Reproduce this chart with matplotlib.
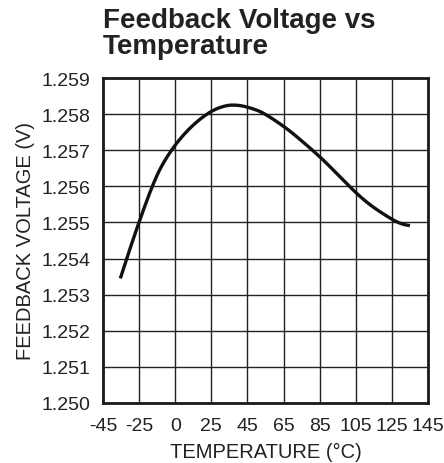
import numpy as np
import matplotlib
matplotlib.use("Agg")
import matplotlib.pyplot as plt

plt.rcParams['font.family'] = ['Liberation Sans', 'DejaVu Sans']

# Data
x_ticks = [-45, -25, 0, 25, 45, 65, 85, 105, 125, 145]
y_ticks = [1.250, 1.251, 1.252, 1.253, 1.254, 1.255, 1.256, 1.257, 1.258, 1.259]
temperature = [-35.4, -30.8, -25.0, -16.25, -9.25, -0.75, 8.0, 17.25, 25.6, 31.6,
               37.2, 44.4, 53.6, 65.0, 73.6, 85.0, 93.8, 105.0, 114.0, 125.0,
               130.6, 135.0]
voltage = [1.25345, 1.25416, 1.25501, 1.25596, 1.25657, 1.25710, 1.25752, 1.25786,
           1.25809, 1.25821, 1.25825, 1.25820, 1.25803, 1.25766, 1.25732, 1.25682,
           1.25639, 1.25583, 1.25545, 1.25509, 1.25496, 1.25491]

idx = np.arange(len(x_ticks), dtype=float)
tk = np.array(x_ticks, dtype=float)
fwd = lambda v: np.interp(v, tk, idx)
inv = lambda v: np.interp(v, idx, tk)


def catmull_rom(xs, ys, n=12):
    """Smooth rendering path through the given points."""
    xs = np.asarray(xs, float)
    ys = np.asarray(ys, float)
    px = np.concatenate([[2 * xs[0] - xs[1]], xs, [2 * xs[-1] - xs[-2]]])
    py = np.concatenate([[2 * ys[0] - ys[1]], ys, [2 * ys[-1] - ys[-2]]])
    ox, oy = [], []
    t = np.linspace(0, 1, n, endpoint=False)
    for i in range(1, len(px) - 2):
        for arr, out in ((px, ox), (py, oy)):
            p0, p1, p2, p3 = arr[i - 1], arr[i], arr[i + 1], arr[i + 2]
            out.extend(0.5 * (2 * p1 + (-p0 + p2) * t + (2 * p0 - 5 * p1 + 4 * p2 - p3) * t ** 2
                              + (-p0 + 3 * p1 - 3 * p2 + p3) * t ** 3))
    ox.append(xs[-1])
    oy.append(ys[-1])
    return np.array(ox), np.array(oy)


fig = plt.figure(figsize=(4.44, 4.64), dpi=100)
ax = fig.add_axes([103/444, 1 - 404/464, 325/444, 325/464])
ax.set_xscale('function', functions=(fwd, inv))

vx, vy = catmull_rom(fwd(np.array(temperature)), np.array(voltage) * 1000.0)
ax.plot(inv(vx), vy / 1000.0, color='#111111', lw=2.4,
        solid_capstyle='butt', solid_joinstyle='round')

ax.set_xlim(-45, 145)
ax.set_ylim(1.250, 1.259)
ax.set_xticks(x_ticks)
ax.set_xticklabels([str(t) for t in x_ticks])
ax.set_yticks(y_ticks)
ax.set_yticklabels([f"{v:.3f}" for v in y_ticks])
ax.grid(True, color='#222222', lw=1.0)
ax.tick_params(axis='y', length=0, labelsize=14, pad=9, colors='#222222')
ax.tick_params(axis='x', length=0, labelsize=14, pad=10, colors='#222222')
for s in ax.spines.values():
    s.set_linewidth(2.0)
    s.set_color('#1a1a1a')
ax.set_xlabel('TEMPERATURE (°C)', fontsize=14.5, color='#222222', labelpad=6)
ax.set_ylabel('FEEDBACK VOLTAGE (V)', fontsize=14.5, color='#222222', labelpad=5)
fig.text(103/444, 1 - 8/464, 'Feedback Voltage vs\nTemperature', fontsize=20,
         fontweight='bold', ha='left', va='top', color='#222222', linespacing=1.0)

fig.savefig('out.png', dpi=100)
